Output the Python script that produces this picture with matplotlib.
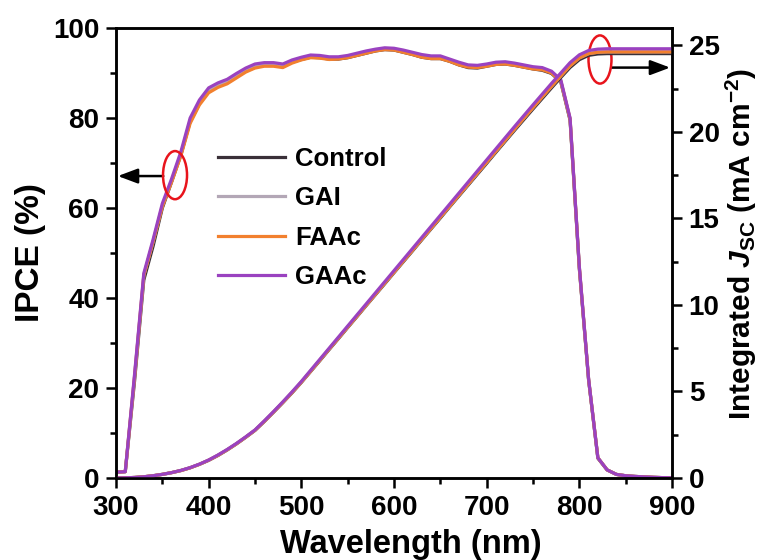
import numpy as np
import matplotlib
matplotlib.use("Agg")
import matplotlib.pyplot as plt
from matplotlib.patches import Ellipse
from matplotlib.ticker import MultipleLocator

plt.rcParams['font.family'] = ['Liberation Sans', 'DejaVu Sans']
plt.rcParams['font.weight'] = 'bold'
plt.rcParams['axes.labelweight'] = 'bold'
plt.rcParams['mathtext.fontset'] = 'custom'
plt.rcParams['mathtext.rm'] = 'Liberation Sans:bold'
plt.rcParams['mathtext.it'] = 'Liberation Sans:bold:italic'
plt.rcParams['mathtext.bf'] = 'Liberation Sans:bold'

# Wavelength grid (nm)
wavelength = np.arange(300, 901, 10)

# IPCE (%)
ipce_control = [1.3, 1.4, 21.5, 44.0, 51.5, 60.0, 65.8, 71.8, 79.2, 83.2,
                85.9, 87.0, 87.9, 89.2, 90.4, 91.3, 91.7, 91.7, 91.4, 92.4,
                93.0, 93.5, 93.4, 93.1, 93.1, 93.4, 93.9, 94.4, 94.9, 95.2,
                95.1, 94.6, 94.1, 93.5, 93.2, 93.2, 92.6, 91.8, 91.2, 91.1,
                91.5, 91.9, 92.0, 91.7, 91.3, 90.9, 90.6, 89.9, 88.0, 79.5,
                46.5, 21.8, 4.4, 1.8, 0.8, 0.5, 0.35, 0.25, 0.15, 0.08, 0.05]
ipce_gai = [1.3, 1.4, 22.5, 45.0, 52.5, 60.5, 66.0, 72.0, 79.4, 83.4,
            86.1, 87.2, 88.1, 89.4, 90.6, 91.5, 91.9, 91.9, 91.6, 92.6,
            93.2, 93.7, 93.6, 93.3, 93.3, 93.6, 94.1, 94.6, 95.1, 95.4,
            95.3, 94.9, 94.4, 93.8, 93.5, 93.5, 92.8, 92.1, 91.5, 91.4,
            91.7, 92.1, 92.2, 91.9, 91.5, 91.1, 90.9, 90.1, 88.2, 79.8,
            46.8, 21.9, 4.5, 1.8, 0.8, 0.5, 0.35, 0.25, 0.15, 0.08, 0.05]
ipce_faac = [1.3, 1.4, 22.5, 45.0, 52.5, 60.3, 65.8, 71.6, 78.8, 82.9,
             85.6, 86.8, 87.6, 88.9, 90.2, 91.1, 91.5, 91.5, 91.2, 92.2,
             92.9, 93.4, 93.3, 93.0, 93.1, 93.4, 93.9, 94.4, 94.9, 95.2,
             95.1, 94.6, 94.1, 93.5, 93.2, 93.2, 92.6, 91.8, 91.3, 91.2,
             91.5, 91.9, 92.0, 91.7, 91.3, 90.9, 90.7, 90.0, 88.2, 79.8,
             46.8, 21.9, 4.5, 1.8, 0.8, 0.5, 0.35, 0.25, 0.15, 0.08, 0.05]
ipce_gaac = [1.3, 1.4, 23.0, 45.5, 53.0, 61.0, 66.5, 72.5, 80.0, 84.0,
             86.7, 87.8, 88.6, 89.9, 91.1, 92.0, 92.3, 92.3, 92.0, 92.9,
             93.5, 94.0, 93.9, 93.6, 93.6, 93.9, 94.4, 94.9, 95.3, 95.6,
             95.5, 95.1, 94.6, 94.1, 93.8, 93.8, 93.1, 92.4, 91.8, 91.7,
             92.0, 92.4, 92.5, 92.2, 91.8, 91.4, 91.2, 90.4, 88.5, 80.0,
             47.0, 22.0, 4.5, 1.8, 0.8, 0.5, 0.35, 0.25, 0.15, 0.08, 0.05]

# Integrated Jsc (mA cm^-2)
jsc_control = [0.00, 0.01, 0.03, 0.07, 0.13, 0.21, 0.31, 0.43, 0.59, 0.79,
               1.02, 1.30, 1.62, 1.97, 2.35, 2.75, 3.26, 3.80, 4.35, 4.92,
               5.52, 6.15, 6.78, 7.42, 8.05, 8.69, 9.32, 9.96, 10.59, 11.22,
               11.86, 12.49, 13.12, 13.76, 14.39, 15.02, 15.66, 16.29, 16.92, 17.55,
               18.18, 18.82, 19.45, 20.08, 20.70, 21.32, 21.93, 22.54, 23.14, 23.72,
               24.17, 24.42, 24.50, 24.52, 24.52, 24.52, 24.52, 24.52, 24.52, 24.52, 24.52]
jsc_gai = [0.00, 0.01, 0.03, 0.07, 0.13, 0.21, 0.31, 0.43, 0.59, 0.79,
           1.03, 1.31, 1.63, 1.98, 2.36, 2.76, 3.27, 3.81, 4.37, 4.94,
           5.54, 6.17, 6.81, 7.45, 8.08, 8.72, 9.35, 9.99, 10.62, 11.26,
           11.89, 12.53, 13.16, 13.80, 14.43, 15.07, 15.70, 16.34, 16.97, 17.61,
           18.24, 18.88, 19.51, 20.15, 20.78, 21.40, 22.02, 22.63, 23.23, 23.82,
           24.27, 24.52, 24.60, 24.62, 24.62, 24.62, 24.62, 24.62, 24.62, 24.62, 24.62]
jsc_faac = [0.00, 0.01, 0.03, 0.07, 0.13, 0.21, 0.31, 0.43, 0.59, 0.79,
            1.03, 1.31, 1.63, 1.98, 2.36, 2.76, 3.27, 3.81, 4.37, 4.94,
            5.54, 6.17, 6.81, 7.45, 8.08, 8.72, 9.35, 9.99, 10.62, 11.26,
            11.89, 12.53, 13.16, 13.80, 14.43, 15.07, 15.70, 16.34, 16.97, 17.61,
            18.24, 18.88, 19.51, 20.15, 20.78, 21.40, 22.02, 22.63, 23.23, 23.82,
            24.27, 24.52, 24.60, 24.62, 24.62, 24.62, 24.62, 24.62, 24.62, 24.62, 24.62]
jsc_gaac = [0.00, 0.01, 0.03, 0.07, 0.13, 0.21, 0.31, 0.44, 0.60, 0.80,
            1.04, 1.33, 1.65, 2.00, 2.38, 2.78, 3.30, 3.84, 4.40, 4.98,
            5.58, 6.22, 6.86, 7.50, 8.14, 8.78, 9.42, 10.06, 10.70, 11.34,
            11.98, 12.62, 13.26, 13.90, 14.54, 15.18, 15.82, 16.46, 17.10, 17.74,
            18.38, 19.02, 19.66, 20.30, 20.93, 21.56, 22.18, 22.80, 23.40, 24.00,
            24.45, 24.70, 24.78, 24.80, 24.80, 24.80, 24.80, 24.80, 24.80, 24.80, 24.80]

labels = ['Control', 'GAI', 'FAAc', 'GAAc']
colors = ['#3a3038', '#b3a7b6', '#f2802e', '#9a42c0']
ipce_series = [ipce_control, ipce_gai, ipce_faac, ipce_gaac]
jsc_series = [jsc_control, jsc_gai, jsc_faac, jsc_gaac]

W, H = 761, 560
fig = plt.figure(figsize=(W / 100, H / 100), dpi=100)
ax = fig.add_axes([116 / W, 82 / H, 556 / W, 450 / H])
ax2 = ax.twinx()

lw = 2.3
handles = []
for y, c, lab in zip(ipce_series, colors, labels):
    h, = ax.plot(wavelength, y, color=c, lw=lw, label=lab, solid_joinstyle='round')
    handles.append(h)
for y, c in zip(jsc_series, colors):
    ax2.plot(wavelength, y, color=c, lw=lw, solid_joinstyle='round')

ax.set_xlim(300, 900)
ax.set_ylim(0, 100)
ax2.set_ylim(0, 26)

ax.xaxis.set_major_locator(MultipleLocator(100))
ax.xaxis.set_minor_locator(MultipleLocator(50))
ax.yaxis.set_major_locator(MultipleLocator(20))
ax.yaxis.set_minor_locator(MultipleLocator(10))
ax2.yaxis.set_major_locator(MultipleLocator(5))
ax2.yaxis.set_minor_locator(MultipleLocator(2.5))

tick_fs = 20
for a in (ax, ax2):
    for s in a.spines.values():
        s.set_linewidth(1.8)
    a.tick_params(which='major', direction='out', length=7, width=1.8,
                  labelsize=tick_fs, pad=5)
    a.tick_params(which='minor', direction='out', length=4, width=1.8)
ax.tick_params(axis='y', which='both', right=False)

ax.set_xlabel('Wavelength (nm)', fontsize=23.5)
ax.xaxis.set_label_coords(0.53, -0.114)
ax.set_ylabel('IPCE (%)', fontsize=24, labelpad=5)
ax2.set_ylabel(r'Integrated $J_{\mathrm{SC}}$ (mA cm$^{-2}$)', fontsize=21.5)
ax2.yaxis.set_label_coords(1.093, 0.52)

leg = ax.legend(handles=handles, loc='upper left',
                bbox_to_anchor=(218 / W, 1 - 147 / H), bbox_transform=fig.transFigure,
                frameon=False, fontsize=18.5, handlelength=2.6, handletextpad=0.39,
                labelspacing=0.6, borderpad=0, borderaxespad=0)

# Red markers and arrows pointing to each curve's axis
ax.add_patch(Ellipse((363.7, 67.3), 25.9, 10.7, fill=False, ec='#e8141c', lw=1.8, zorder=5))
ax.annotate('', xy=(302, 67.1), xytext=(351, 67.1),
            arrowprops=dict(arrowstyle='-|>,head_length=1.2,head_width=0.45',
                            color='black', lw=1.8, shrinkA=0, shrinkB=0))
ax.add_patch(Ellipse((822.3, 93.0), 24.8, 10.7, fill=False, ec='#e8141c', lw=1.8, zorder=5))
ax.annotate('', xy=(898, 91.2), xytext=(835, 91.2),
            arrowprops=dict(arrowstyle='-|>,head_length=1.2,head_width=0.45',
                            color='black', lw=1.8, shrinkA=0, shrinkB=0))

fig.savefig('out.png', dpi=100)
